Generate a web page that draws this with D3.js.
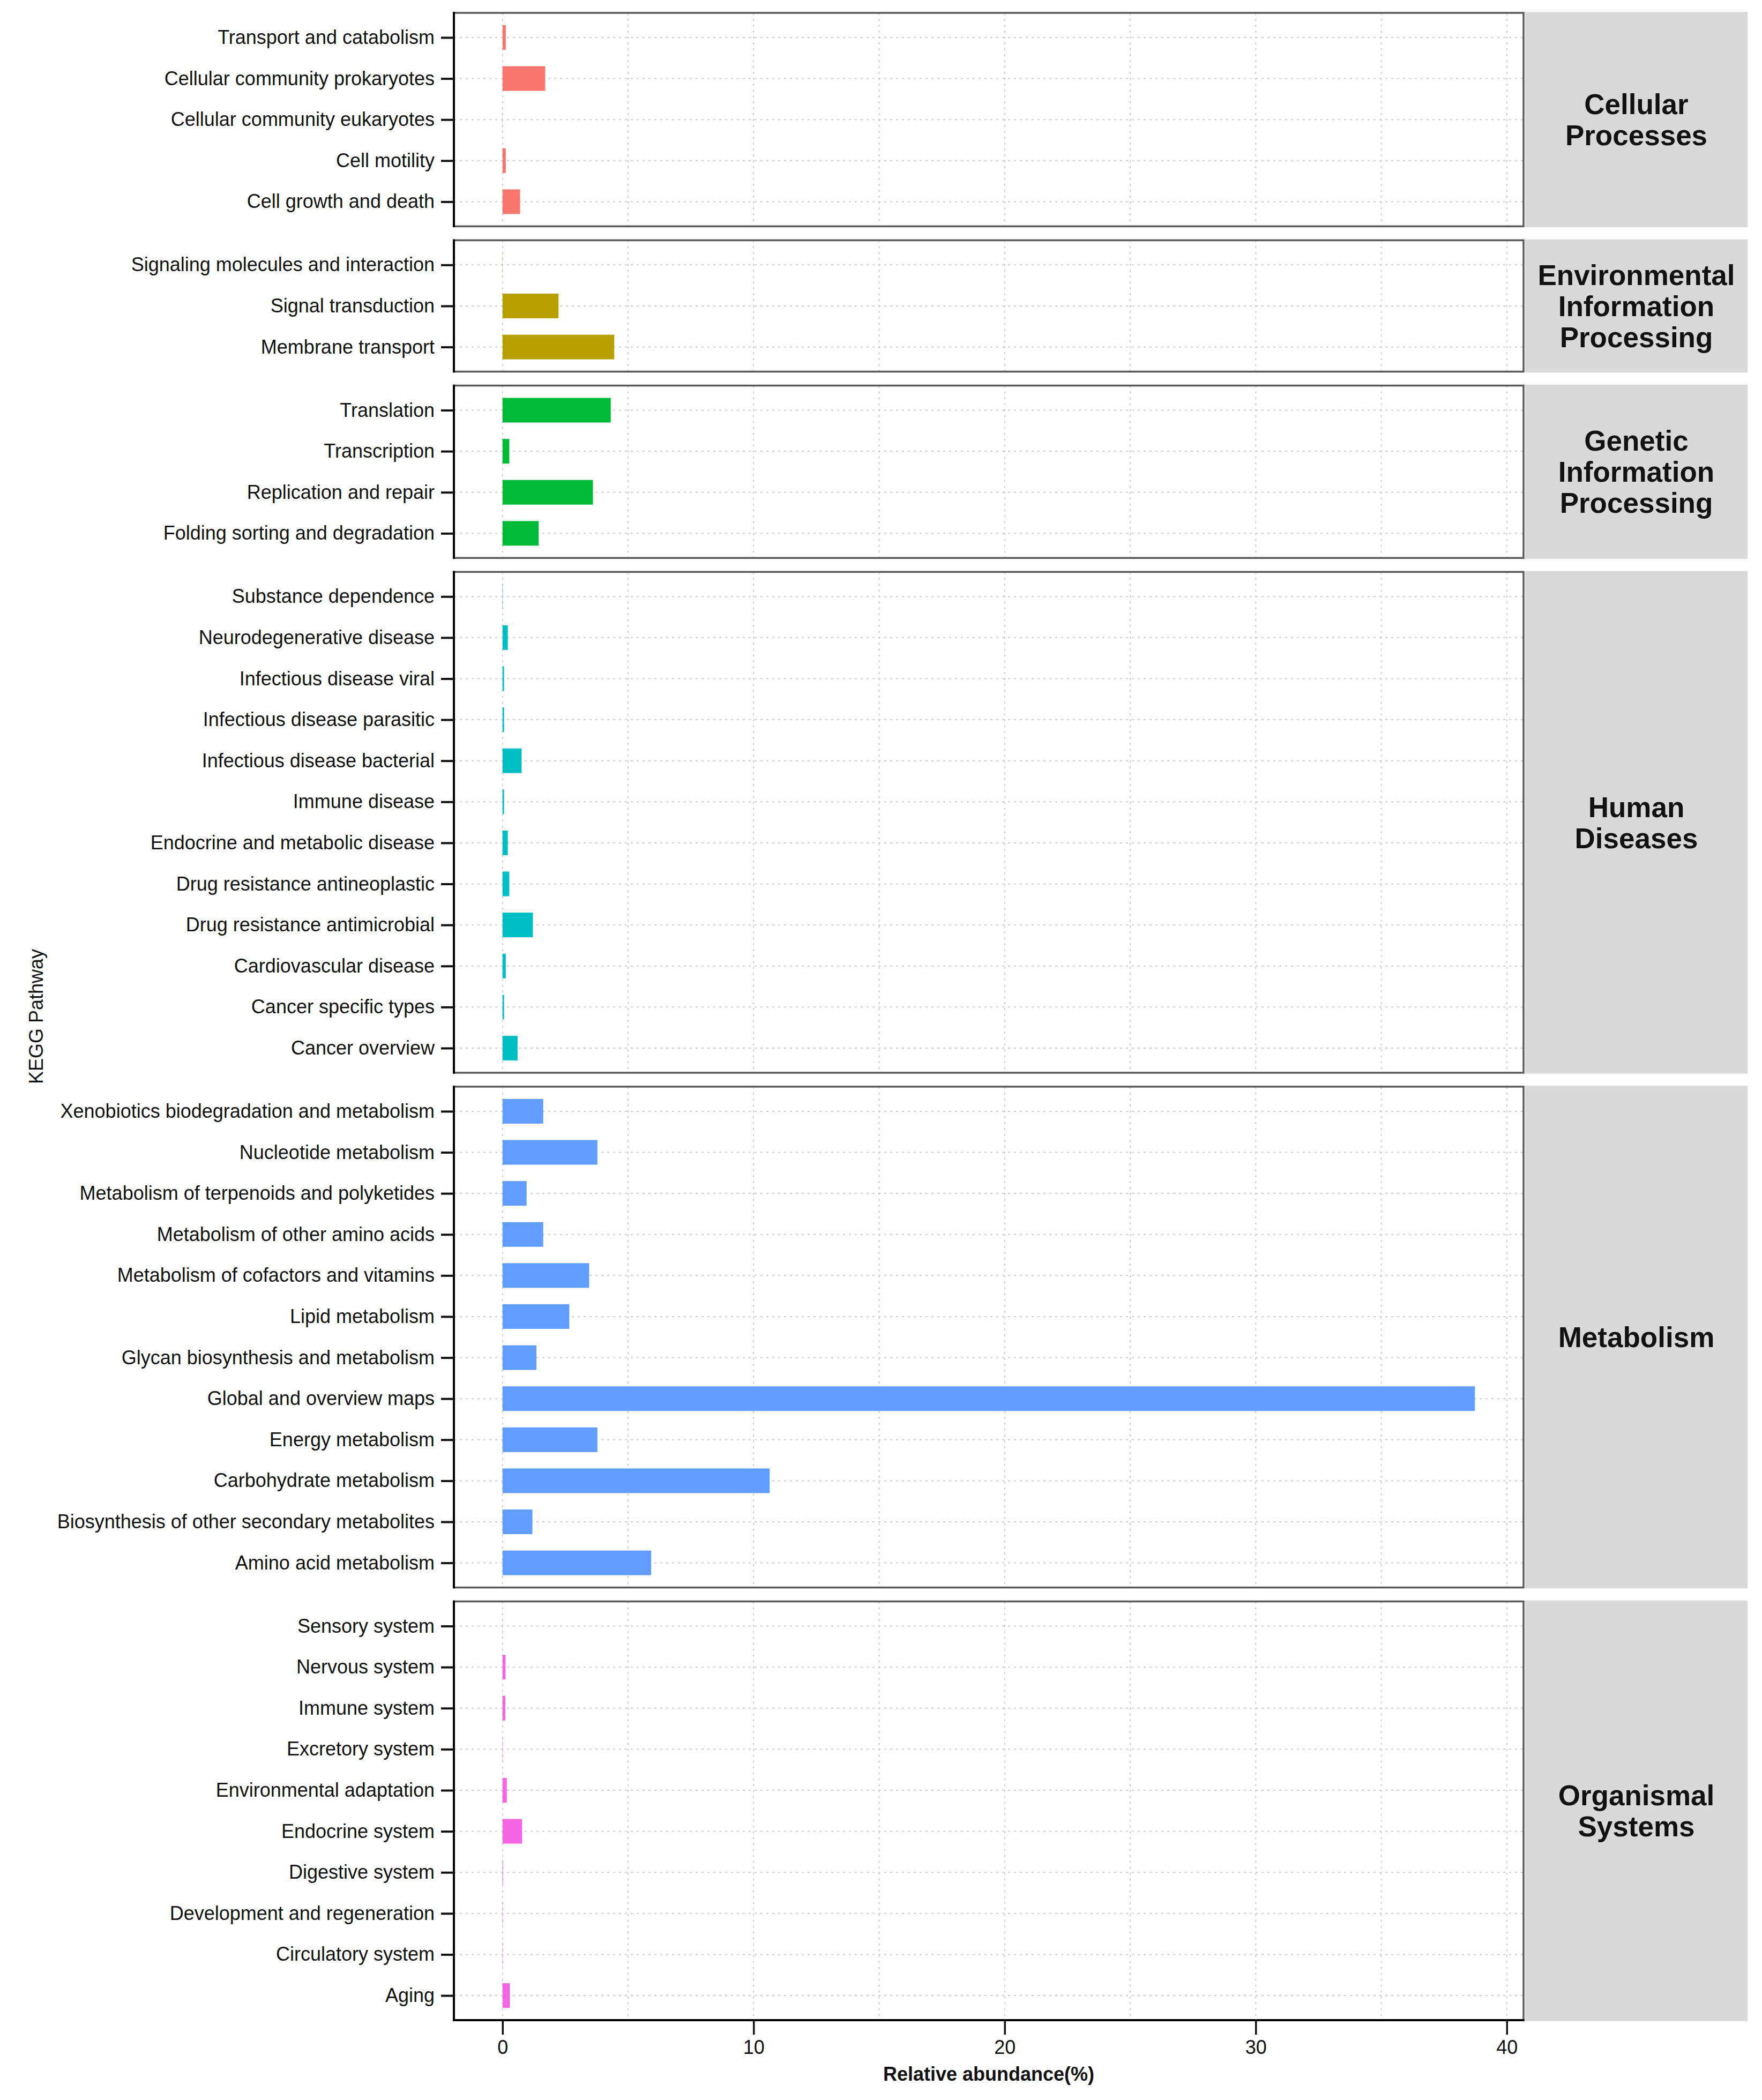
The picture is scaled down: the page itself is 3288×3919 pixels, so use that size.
<!DOCTYPE html>
<html>
<head>
<meta charset="utf-8">
<script src="https://cdn.jsdelivr.net/npm/d3@7"></script>
<style>
  html, body { margin: 0; padding: 0; background: #ffffff; }
  svg { display: block; }
  text { font-family: "Liberation Sans", Arial, Helvetica, sans-serif; }
</style>
</head>
<body>
<script>
// ---------------- DATA ----------------
const groupNames = ["Cellular Processes", "Environmental Information Processing", "Genetic Information Processing", "Human Diseases", "Metabolism", "Organismal Systems"];
const groupStripLines = [["Cellular", "Processes"], ["Environmental", "Information", "Processing"], ["Genetic", "Information", "Processing"], ["Human", "Diseases"], ["Metabolism"], ["Organismal", "Systems"]];
const groupColors = ["#F8766D", "#B79F00", "#00BA38", "#00BFC4", "#619CFF", "#F564E3"];

const cellularPathways = ["Transport and catabolism", "Cellular community prokaryotes", "Cellular community eukaryotes", "Cell motility", "Cell growth and death"];
const cellularValues = [0.13, 1.70, 0.005, 0.13, 0.70];

const environmentalPathways = ["Signaling molecules and interaction", "Signal transduction", "Membrane transport"];
const environmentalValues = [0.005, 2.23, 4.45];

const geneticPathways = ["Translation", "Transcription", "Replication and repair", "Folding sorting and degradation"];
const geneticValues = [4.31, 0.27, 3.60, 1.44];

const humanPathways = ["Substance dependence", "Neurodegenerative disease", "Infectious disease viral", "Infectious disease parasitic", "Infectious disease bacterial", "Immune disease", "Endocrine and metabolic disease", "Drug resistance antineoplastic", "Drug resistance antimicrobial", "Cardiovascular disease", "Cancer specific types", "Cancer overview"];
const humanValues = [0.01, 0.21, 0.06, 0.06, 0.76, 0.06, 0.21, 0.27, 1.21, 0.13, 0.06, 0.60];

const metabolismPathways = ["Xenobiotics biodegradation and metabolism", "Nucleotide metabolism", "Metabolism of terpenoids and polyketides", "Metabolism of other amino acids", "Metabolism of cofactors and vitamins", "Lipid metabolism", "Glycan biosynthesis and metabolism", "Global and overview maps", "Energy metabolism", "Carbohydrate metabolism", "Biosynthesis of other secondary metabolites", "Amino acid metabolism"];
const metabolismValues = [1.62, 3.78, 0.96, 1.62, 3.45, 2.66, 1.35, 38.73, 3.78, 10.64, 1.19, 5.92];

const organismalPathways = ["Sensory system", "Nervous system", "Immune system", "Excretory system", "Environmental adaptation", "Endocrine system", "Digestive system", "Development and regeneration", "Circulatory system", "Aging"];
const organismalValues = [0.003, 0.12, 0.11, 0.01, 0.17, 0.78, 0.02, 0.01, 0.01, 0.29];

const xTickValues = [0, 10, 20, 30, 40];
const xGridValues = [0, 5, 10, 15, 20, 25, 30, 35, 40];
const xTitle = "Relative abundance(%)";
const yTitle = "KEGG Pathway";

// ---------------- BUILD ----------------
const pathwaysByGroup = [cellularPathways, environmentalPathways, geneticPathways, humanPathways, metabolismPathways, organismalPathways];
const valuesByGroup = [cellularValues, environmentalValues, geneticValues, humanValues, metabolismValues, organismalValues];

const W = 3288, H = 3919;
const panelLeft = 847, panelRight = 2843;
const stripLeft = 2846, stripRight = 3261;
const plotTop = 24, plotBottom = 3770;
const panelGap = 26;
const catPad = 0.6;   // discrete expansion (ggplot default)
const barWidth = 0.6;

const nTotal = d3.sum(pathwaysByGroup, p => p.length);
const nPanels = pathwaysByGroup.length;
const step = (plotBottom - plotTop - (nPanels - 1) * panelGap) / (nTotal + nPanels * (2 * catPad - 1));

const maxVal = d3.max(valuesByGroup.flat());
const x = d3.scaleLinear()
  .domain([-0.05 * maxVal, 1.05 * maxVal])
  .range([panelLeft, panelRight]);

const svg = d3.select("body").append("svg")
  .attr("width", W).attr("height", H)
  .attr("viewBox", `0 0 ${W} ${H}`);

svg.append("rect").attr("width", W).attr("height", H).attr("fill", "#ffffff");

let yCursor = plotTop;
const panels = [];
pathwaysByGroup.forEach((paths, gi) => {
  const n = paths.length;
  const h = (n - 1 + 2 * catPad) * step;
  panels.push({ gi, top: yCursor, bottom: yCursor + h, paths, values: valuesByGroup[gi] });
  yCursor += h + panelGap;
});

panels.forEach((p, idx) => {
  const g = svg.append("g").attr("class", "panel");
  const y = d3.scalePoint()
    .domain(p.paths)
    .range([p.top, p.bottom])
    .padding(catPad);

  g.append("rect")
    .attr("x", panelLeft).attr("y", p.top)
    .attr("width", panelRight - panelLeft).attr("height", p.bottom - p.top)
    .attr("fill", "#ffffff");

  g.selectAll("line.vgrid").data(xGridValues).enter().append("line")
    .attr("class", "vgrid")
    .attr("x1", d => x(d)).attr("x2", d => x(d))
    .attr("y1", p.top).attr("y2", p.bottom)
    .attr("stroke", "#cdcdcd").attr("stroke-width", 2)
    .attr("stroke-dasharray", "4,7");

  g.selectAll("line.hgrid").data(p.paths).enter().append("line")
    .attr("class", "hgrid")
    .attr("x1", panelLeft).attr("x2", panelRight)
    .attr("y1", d => y(d)).attr("y2", d => y(d))
    .attr("stroke", "#cdcdcd").attr("stroke-width", 2)
    .attr("stroke-dasharray", "4,7");

  const bh = barWidth * step;
  g.selectAll("rect.bar").data(p.paths.map((d, i) => ({ name: d, value: p.values[i] }))).enter().append("rect")
    .attr("class", "bar")
    .attr("x", x(0))
    .attr("y", d => y(d.name) - bh / 2)
    .attr("width", d => Math.max(0, x(d.value) - x(0)))
    .attr("height", bh)
    .attr("fill", groupColors[p.gi]);

  g.append("rect")
    .attr("x", panelLeft).attr("y", p.top)
    .attr("width", panelRight - panelLeft).attr("height", p.bottom - p.top)
    .attr("fill", "none").attr("stroke", "#5a5a5a").attr("stroke-width", 3.5);

  const yAxis = d3.axisLeft(y).tickSize(24).tickSizeOuter(0).tickPadding(12);
  const ya = svg.append("g").attr("transform", `translate(${panelLeft},0)`).call(yAxis);
  ya.select(".domain").attr("stroke", "#000").attr("stroke-width", 4)
    .attr("d", `M0,${p.top - 1.75}V${p.bottom + 1.75}`);
  ya.selectAll(".tick line").attr("stroke", "#111").attr("stroke-width", 4);
  ya.selectAll(".tick text")
    .attr("fill", "#111")
    .style("font-size", "36px")
    .style("font-family", "'Liberation Sans', Arial, sans-serif");

  const sg = svg.append("g").attr("class", "strip");
  sg.append("rect")
    .attr("x", stripLeft).attr("y", p.top - 1.75)
    .attr("width", stripRight - stripLeft).attr("height", p.bottom - p.top + 3.5)
    .attr("fill", "#d9d9d9");
  const lines = groupStripLines[p.gi];
  const lh = 58;
  const cy = (p.top + p.bottom) / 2;
  const t = sg.append("text")
    .attr("x", (stripLeft + stripRight) / 2)
    .attr("text-anchor", "middle")
    .attr("fill", "#111")
    .style("font-size", "53px")
    .style("font-weight", "bold");
  lines.forEach((ln, i) => {
    t.append("tspan")
      .attr("x", (stripLeft + stripRight) / 2)
      .attr("y", cy + (i - (lines.length - 1) / 2) * lh)
      .attr("dy", "0.36em")
      .text(ln);
  });

  if (idx === panels.length - 1) {
    const xAxis = d3.axisBottom(x).tickValues(xTickValues).tickSize(27).tickSizeOuter(0).tickPadding(10).tickFormat(d3.format("d"));
    const xa = svg.append("g").attr("transform", `translate(0,${p.bottom})`).call(xAxis);
    xa.select(".domain").attr("stroke", "#000").attr("stroke-width", 4)
      .attr("d", `M${panelLeft - 1.75},0H${panelRight + 1.75}`);
    xa.selectAll(".tick line").attr("stroke", "#111").attr("stroke-width", 3.5);
    xa.selectAll(".tick text")
      .attr("fill", "#111")
      .style("font-size", "36px")
      .style("font-family", "'Liberation Sans', Arial, sans-serif");
  }
});

svg.append("text")
  .attr("x", (panelLeft + panelRight) / 2)
  .attr("y", 3883)
  .attr("text-anchor", "middle")
  .attr("fill", "#111")
  .style("font-size", "36px")
  .style("font-weight", "bold")
  .text(xTitle);

svg.append("text")
  .attr("transform", `translate(80,${(plotTop + plotBottom) / 2}) rotate(-90)`)
  .attr("text-anchor", "middle")
  .attr("fill", "#111")
  .style("font-size", "36px")
  .text(yTitle);
</script>
</body>
</html>
